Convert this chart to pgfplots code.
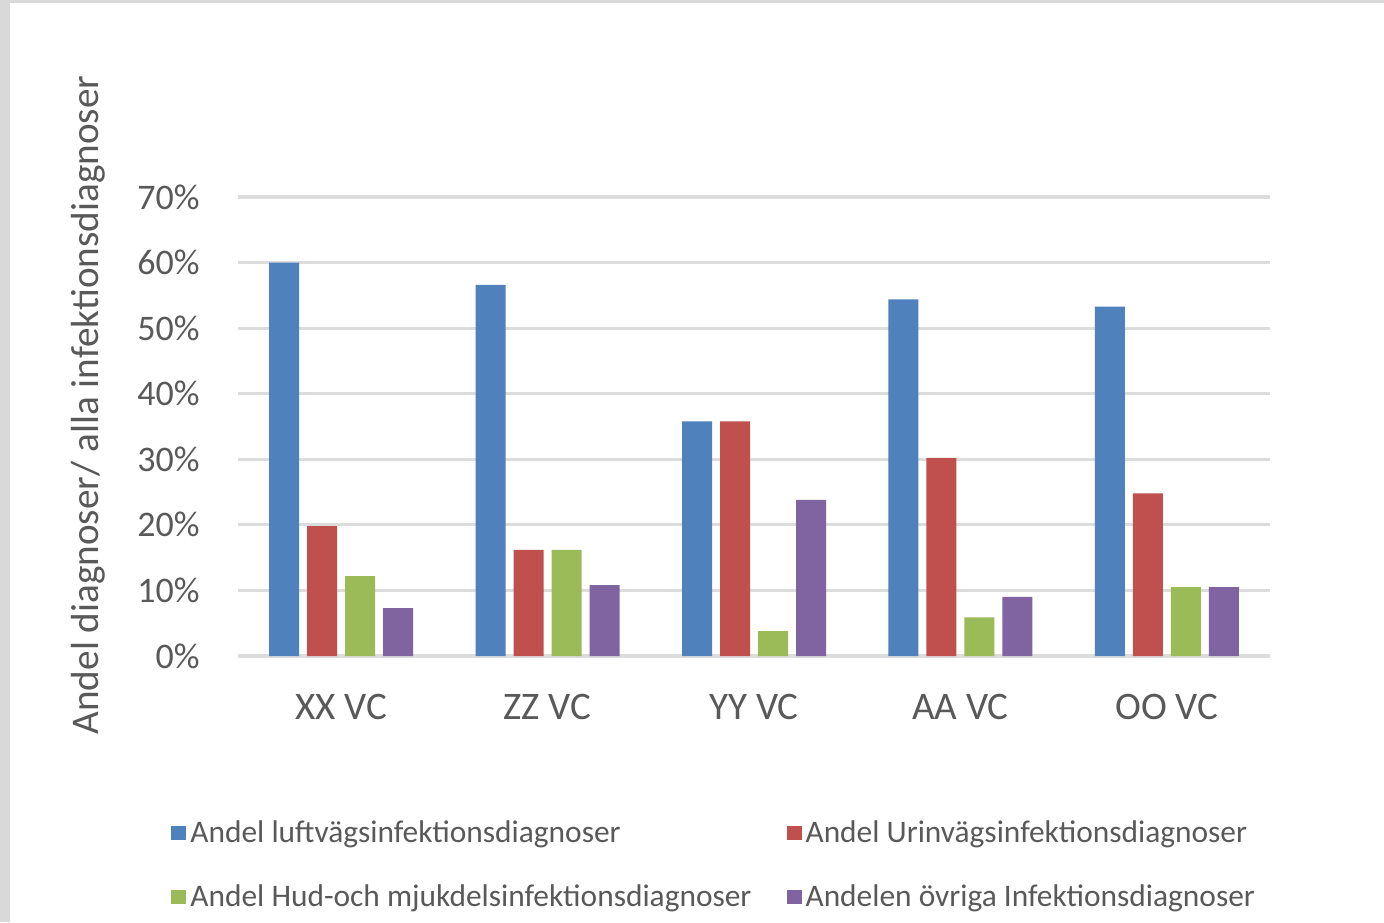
\documentclass[border=0pt]{standalone}
\usepackage{fontspec}
\setmainfont{Carlito}
\usepackage{pgfplots}
\pgfplotsset{compat=1.18}
\definecolor{serA}{HTML}{4F81BD}
\definecolor{serB}{HTML}{C0504D}
\definecolor{serC}{HTML}{9BBB59}
\definecolor{serD}{HTML}{8064A2}
\definecolor{txt}{HTML}{595959}
\definecolor{gridc}{HTML}{DCDCDC}
\definecolor{frame}{HTML}{D9D9D9}

\begin{document}
\begin{tikzpicture}
% background (1px = 0.5pt)
\fill[frame] (0,0) rectangle (692pt,461pt);
\fill[white] (5pt,0) rectangle (692pt,459.5pt);
\begin{axis}[
  at={(119pt,133pt)}, anchor=south west,
  scale only axis, width=516pt, height=229.5pt,
  ybar=4pt, bar width=15pt,
  xmin=-0.5, xmax=4.5, ymin=0, ymax=70,
  xtick={0,1,2,3,4},
  xticklabels={XX VC,ZZ VC,YY VC,AA VC,OO VC},
  ytick={0,10,20,30,40,50,60,70},
  yticklabels={0\%,10\%,20\%,30\%,40\%,50\%,60\%,70\%},
  major tick length=0pt,
  axis line style={draw=none},
  ymajorgrids, grid style={gridc, line width=1.6pt},
  xticklabel style={font=\fontsize{19.5}{22}\selectfont, text=txt, inner sep=0pt, anchor=center, yshift=-25.5pt},
  yticklabel style={font=\fontsize{18}{21}\selectfont, text=txt, inner sep=0pt, anchor=east, xshift=-19pt},
  ylabel={Andel diagnoser/ alla infektionsdiagnoser},
  ylabel style={font=\fontsize{19.6}{22}\selectfont, text=txt, at={(axis description cs:-0.1453,0.547)}, anchor=center, inner sep=0pt},
  legend columns=2,
  legend cell align=left,
  legend image code/.code={\fill[#1, draw=none] (-3pt,-3.6pt) rectangle (4.5pt,3.6pt);},
  legend style={at={(axis description cs:-0.0649,-0.349)}, anchor=north west, draw=none, fill=none,
    inner sep=0pt, font=\fontsize{15.7}{18}\selectfont, text=txt, row sep=15.5pt,
    /tikz/every even column/.append style={column sep=15.5pt}},
]
\addplot[fill=serA, draw=none] coordinates {(0,60.0) (1,56.6) (2,35.8) (3,54.4) (4,53.3)};
\addplot[fill=serB, draw=none] coordinates {(0,19.8) (1,16.2) (2,35.8) (3,30.2) (4,24.8)};
\addplot[fill=serC, draw=none] coordinates {(0,12.2) (1,16.2) (2,3.8) (3,5.9) (4,10.5)};
\addplot[fill=serD, draw=none] coordinates {(0,7.3) (1,10.8) (2,23.8) (3,9.0) (4,10.5)};
\legend{Andel luftvägsinfektionsdiagnoser, Andel Urinvägsinfektionsdiagnoser, Andel Hud-och mjukdelsinfektionsdiagnoser, Andelen övriga Infektionsdiagnoser}
\end{axis}
\pgfresetboundingbox
\useasboundingbox (0,0) rectangle (692pt,461pt);
\end{tikzpicture}
\end{document}
